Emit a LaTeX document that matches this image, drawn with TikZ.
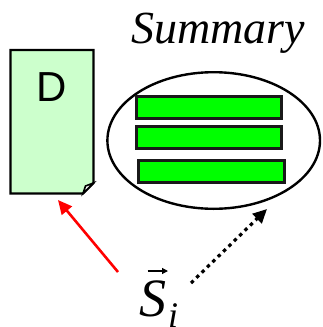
\documentclass[tikz,border=0pt]{standalone}
\usepackage{fontspec}
\setmainfont{Liberation Serif}
\newfontfamily\sansf{Liberation Sans}
\usetikzlibrary{arrows.meta}
\definecolor{docfill}{RGB}{204,255,204}
\definecolor{barfill}{RGB}{0,255,0}
\tikzset{
  px/.style={x=1pt,y=-1pt},
  outline/.style={draw=black,line width=2.4pt,line join=miter},
  barbox/.style={draw=black!90,line width=3pt,fill=barfill},
  headtip/.style={-{Triangle[length=14pt,width=13pt]}},
  vectip/.style={-{Triangle[length=6pt,width=6pt]},line width=1.2pt},
  textlbl/.style={inner sep=0pt,anchor=base west}
}
\begin{document}
\begin{tikzpicture}[px]
\useasboundingbox (0,0) rectangle (322,327);
\path[fill=white] (0,0) rectangle (322,327);
% document
\draw[outline,fill=docfill] (10.5,50) -- (93.5,50) -- (93.5,183) -- (83,193.5) -- (10.5,193.5) -- cycle;
\draw[line width=1.6pt,fill=white] (83,193.5) -- (85.5,186) -- (93.5,183) -- cycle;
\node[textlbl,font=\sansf\fontsize{42}{42}\selectfont] (d) at (36,101) {D};
% summary
\node[textlbl,font=\itshape\fontsize{46}{46}\selectfont] (sum) at (131,43) {Summary};
\draw[black,line width=2.4pt,fill=white] (213.7,140.5) ellipse (106.3pt and 68.3pt);
\draw[barbox] (136,96) rectangle (281,118);
\draw[barbox] (136,126) rectangle (281,148);
\draw[barbox] (138.5,160) rectangle (284,182);
% label
\node[textlbl,font=\itshape\fontsize{54}{54}\selectfont] (s) at (139,316) {S};
\coordinate (vs) at (147.5,271);
\coordinate (ve) at (168,271);
\draw[vectip] (vs) -- (ve);
\node[textlbl,font=\itshape\fontsize{36}{36}\selectfont] (sub) at (168,327.5) {i};
% connectors
\coordinate (rs) at (118,272);
\coordinate (re) at (58,200);
\coordinate (bs) at (191,283);
\coordinate (be) at (267,209);
\draw[headtip,line width=2.6pt,color=red] (rs) -- (re);
\draw[headtip,black,line width=3.2pt,dash pattern=on 3.5pt off 4pt] (bs) -- (be);
\end{tikzpicture}
\end{document}
